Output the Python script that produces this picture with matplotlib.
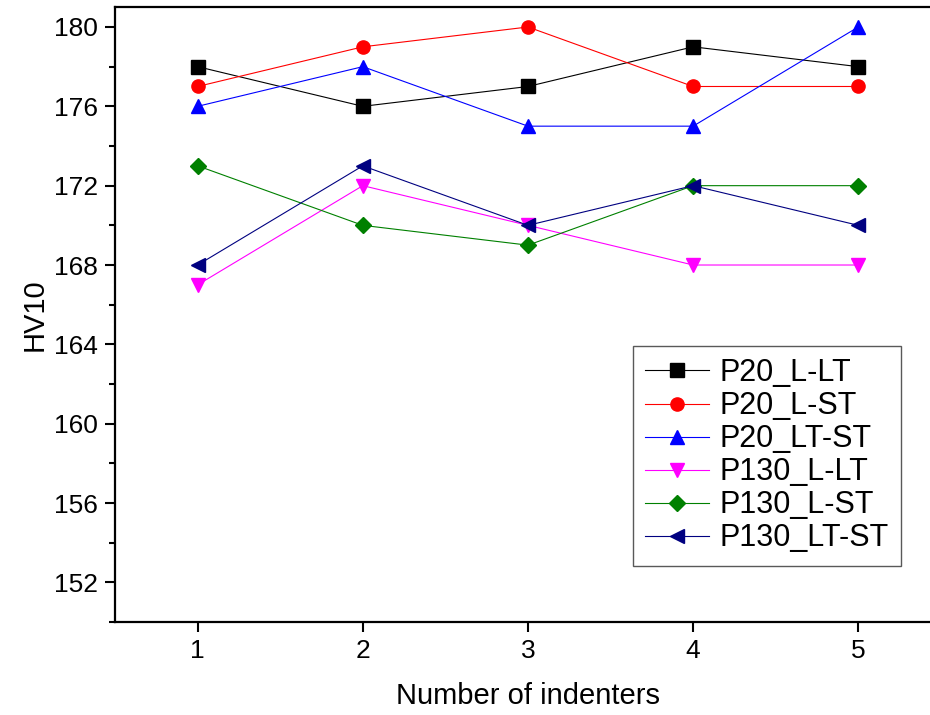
import numpy as np
import matplotlib
matplotlib.use("Agg")
import matplotlib.pyplot as plt
from matplotlib.ticker import MultipleLocator

plt.rcParams.update({
    "font.family": ["Liberation Sans", "DejaVu Sans"],
    "font.size": 19,
})

indenters = [1, 2, 3, 4, 5]
p20_l_lt = [178, 176, 177, 179, 178]
p20_l_st = [177, 179, 180, 177, 177]
p20_lt_st = [176, 178, 175, 175, 180]
p130_l_lt = [167, 172, 170, 168, 168]
p130_l_st = [173, 170, 169, 172, 172]
p130_lt_st = [168, 173, 170, 172, 170]

series = [
    ("P20_L-LT", p20_l_lt, "black", "s"),
    ("P20_L-ST", p20_l_st, "red", "o"),
    ("P20_LT-ST", p20_lt_st, "blue", "^"),
    ("P130_L-LT", p130_l_lt, "magenta", "v"),
    ("P130_L-ST", p130_l_st, "green", "D"),
    ("P130_LT-ST", p130_lt_st, "navy", "<"),
]

fig = plt.figure(figsize=(9.3, 7.15), dpi=100)
ax = fig.add_axes([0.1237, 0.130, 0.888, 0.860])

for label, vals, col, mk in series:
    ms = 8.5 if mk == "D" else 9.5
    ax.plot(indenters, vals, color=col, lw=0.8, marker=mk, ms=ms,
            markeredgecolor=col, label=label)

ax.set_xlim(0.5, 5.5)
ax.set_ylim(150, 181)
ax.set_xticks(indenters)
ax.yaxis.set_major_locator(MultipleLocator(4))
ax.yaxis.set_minor_locator(MultipleLocator(2))
ax.set_yticks(np.arange(152, 181, 4))
ax.tick_params(axis="both", which="major", direction="out", length=7, width=1.5,
               labelsize=19, pad=5)
ax.tick_params(axis="y", which="minor", direction="out", length=4, width=1.5)
for s in ax.spines.values():
    s.set_linewidth(1.6)

ax.set_xlabel("Number of indenters", fontsize=21, labelpad=14)
ax.set_ylabel("HV10", fontsize=21, labelpad=4)

leg = ax.legend(loc="upper left", bbox_to_anchor=(0.627, 0.449), fontsize=22,
                frameon=True, fancybox=False, edgecolor="0.35", framealpha=1,
                handlelength=2.1, handletextpad=0.35, labelspacing=0.1,
                borderpad=0.4, borderaxespad=0)
leg.get_frame().set_linewidth(1.0)

fig.savefig("out.png", dpi=100)
